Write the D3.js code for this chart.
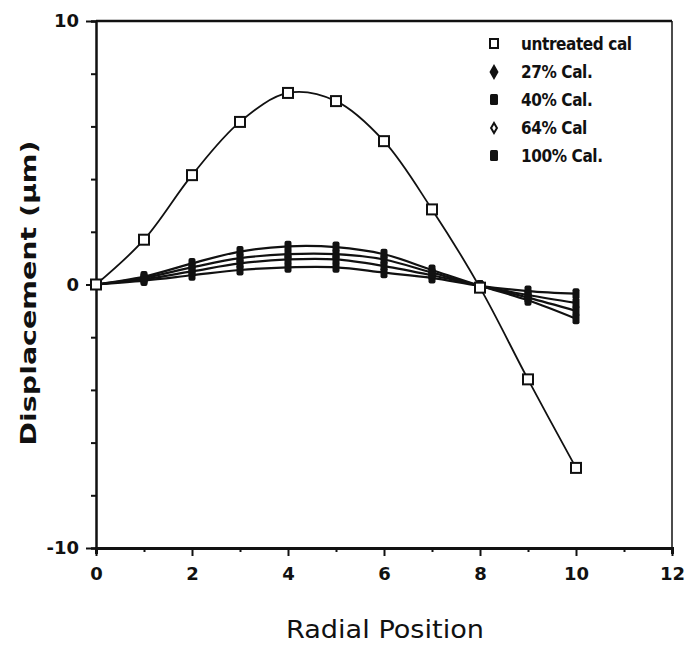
<!DOCTYPE html>
<html><head><meta charset="utf-8">
<script src="https://cdn.jsdelivr.net/npm/d3@7/dist/d3.min.js"></script>
<style>body{margin:0;background:#fff}svg{display:block}</style>
</head><body>
<svg id="chart" width="687" height="647"></svg>
<script>
const radialPositions = [0,1,2,3,4,5,6,7,8,9,10];
const untreated = [0,1.7,4.15,6.17,7.27,6.96,5.44,2.85,-0.12,-3.6,-6.96];
const cal27 = [0,0.3,0.8,1.25,1.45,1.42,1.15,0.55,-0.05,-0.6,-1.3];
const cal40 = [0,0.25,0.65,1.0,1.15,1.15,0.95,0.45,-0.05,-0.5,-1.0];
const cal64 = [0,0.2,0.5,0.8,0.95,0.95,0.7,0.35,-0.05,-0.4,-0.7];
const cal100 = [0,0.15,0.35,0.55,0.65,0.65,0.45,0.25,-0.05,-0.25,-0.35];
const seriesNames = ["untreated cal","27% Cal.","40% Cal.","64% Cal","100% Cal."];
const xTicks = [0,2,4,6,8,10,12];
const yTicks = [-10,0,10];

const svg = d3.select("#chart");
const x = d3.scaleLinear().domain([0,12]).range([96,672]);
const y = d3.scaleLinear().domain([-10,10]).range([548,21]);
const ink = "#111";

// frame top & right
svg.append("line").attr("x1",x(0)).attr("x2",x(12)).attr("y1",y(10)).attr("y2",y(10)).attr("stroke",ink).attr("stroke-width",2.5);
svg.append("line").attr("x1",x(12)).attr("x2",x(12)).attr("y1",y(10)).attr("y2",y(-10)).attr("stroke",ink).attr("stroke-width",1.5);

// axes
const xAxis = svg.append("g").attr("transform",`translate(0,${y(-10)})`)
  .call(d3.axisBottom(x).tickValues(d3.range(0,12.01,1)).tickSize(6).tickFormat(d=>xTicks.includes(d)?d:""));
xAxis.select(".domain").attr("stroke-width",3).attr("stroke",ink);
xAxis.selectAll(".tick line").attr("stroke",ink).attr("stroke-width",2).attr("y2",d=>d%2===0?8:4);
xAxis.selectAll(".tick text").attr("font-family","DejaVu Sans").attr("font-weight","bold").attr("font-size",18).attr("fill",ink).attr("dy","1.3em");

const yAxis = svg.append("g").attr("transform",`translate(${x(0)},0)`)
  .call(d3.axisLeft(y).tickValues(d3.range(-10,10.01,2)).tickSize(5).tickFormat(d=>yTicks.includes(d)?d:""));
yAxis.select(".domain").attr("stroke-width",2.5).attr("stroke",ink);
yAxis.selectAll(".tick line").attr("stroke",ink).attr("stroke-width",2).attr("x2",d=>yTicks.includes(d)?-10:-5);
yAxis.selectAll(".tick text").attr("font-family","DejaVu Sans").attr("font-weight","bold").attr("font-size",18).attr("fill",ink).attr("dx","-0.5em");

// axis titles
svg.append("text").attr("x",385).attr("y",638).attr("text-anchor","middle")
  .attr("font-family","DejaVu Sans").attr("font-size",24).attr("textLength",198).attr("lengthAdjust","spacingAndGlyphs")
  .attr("fill",ink).text("Radial Position");
svg.append("text").attr("transform","translate(36,293) rotate(-90)").attr("text-anchor","middle")
  .attr("font-family","DejaVu Sans").attr("font-weight","bold").attr("font-size",22).attr("textLength",305).attr("lengthAdjust","spacingAndGlyphs")
  .attr("fill",ink).text("Displacement (\u00b5m)");

const line = d3.line().x((d,i)=>x(radialPositions[i])).y(d=>y(d)).curve(d3.curveCatmullRom.alpha(0.5));
const small = [cal100,cal64,cal40,cal27];
small.forEach(s=>{
  svg.append("path").attr("d",line(s)).attr("fill","none").attr("stroke",ink).attr("stroke-width",2.2);
});
svg.append("path").attr("d",line(untreated)).attr("fill","none").attr("stroke",ink).attr("stroke-width",1.8);

// markers for small series
small.forEach((s,k)=>{
  svg.append("g").selectAll("rect").data(s).join("rect")
    .attr("x",(d,i)=>x(radialPositions[i])-3.5).attr("y",d=>y(d)-5.5)
    .attr("width",7).attr("height",11).attr("rx",2).attr("fill",ink);
});
// untreated open squares
svg.append("g").selectAll("rect").data(untreated).join("rect")
  .attr("x",(d,i)=>x(radialPositions[i])-5).attr("y",d=>y(d)-5)
  .attr("width",10).attr("height",10).attr("fill","#fff").attr("stroke",ink).attr("stroke-width",2);

// legend
const lg = svg.append("g");
seriesNames.forEach((n,i)=>{
  const yy = 44 + i*28;
  if(i===0){
    lg.append("rect").attr("x",490).attr("y",yy-5).attr("width",8).attr("height",9).attr("fill","#fff").attr("stroke",ink).attr("stroke-width",2);
  } else if(i===1||i===3){
    lg.append("path").attr("d",d3.symbol(d3.symbolDiamond,i===1?40:30)()).attr("transform",`translate(494,${yy})`).attr("fill",i===1?ink:"#fff").attr("stroke",ink).attr("stroke-width",2);
  } else {
    lg.append("rect").attr("x",490).attr("y",yy-6).attr("width",8).attr("height",11).attr("rx",1.5).attr("fill",ink);
  }
  lg.append("text").attr("x",521).attr("y",yy+6).attr("font-family","DejaVu Sans Condensed, DejaVu Sans").attr("font-weight","bold")
    .attr("font-size",17).attr("letter-spacing","-0.4").attr("fill",ink).text(n);
});
</script>
</body></html>
